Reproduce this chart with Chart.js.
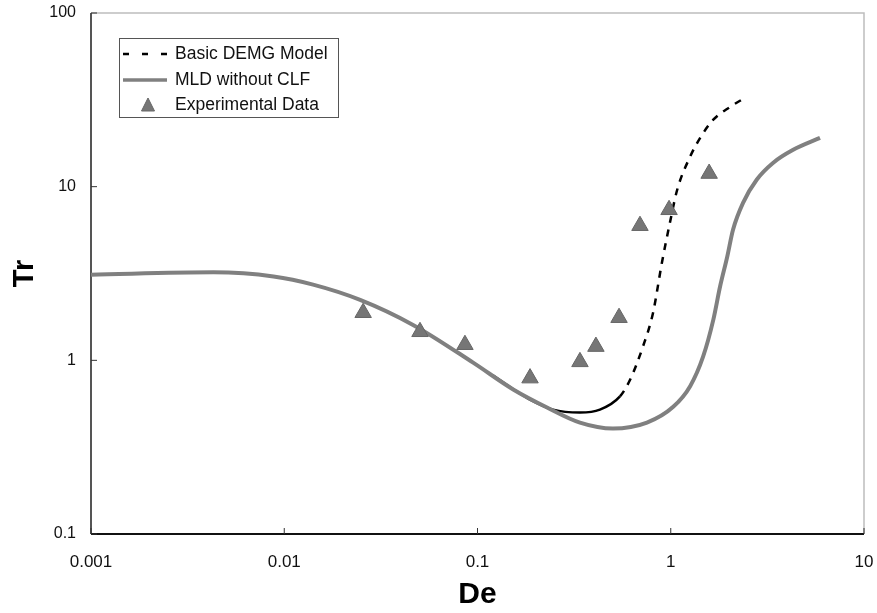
<!DOCTYPE html>
<html>
<head>
<meta charset="utf-8">
<script src="https://cdn.jsdelivr.net/npm/chart.js@4"></script>
<style>
  html, body { margin: 0; padding: 0; background: #fff; }
  #wrap { width: 877px; height: 613px; }
</style>
</head>
<body>
<div id="wrap"><canvas id="trChart" width="877" height="613"></canvas></div>
<script>
// tick labels
const xTicks = [0.001, 0.01, 0.1, 1, 10];
const yTicks = [0.1, 1, 10, 100];

// Basic DEMG Model (black, solid at first then dashed)
const deBasic = [0.12, 0.16, 0.187, 0.246, 0.339, 0.43, 0.546, 0.615, 0.718, 0.81, 0.90, 0.99, 1.08, 1.26, 1.42, 1.66, 2.03, 2.42];
const trBasic = [0.82, 0.66, 0.594, 0.52, 0.50, 0.52, 0.62, 0.77, 1.2, 1.88, 3.65, 6.2, 9.6, 14.9, 19.1, 24.3, 28.8, 32.5];

// MLD without CLF (grey)
const deMld = [0.001, 0.0043, 0.0088, 0.0141, 0.0247, 0.0464, 0.0949, 0.153, 0.229, 0.339, 0.502, 0.753, 1.03, 1.26, 1.47, 1.66, 1.80, 1.96, 2.10, 2.37, 2.79, 3.38, 4.3, 5.92];
const trMld = [3.11, 3.21, 3.04, 2.73, 2.23, 1.60, 0.97, 0.68, 0.535, 0.438, 0.405, 0.438, 0.54, 0.71, 1.05, 1.71, 2.66, 3.95, 5.65, 8.1, 11.0, 13.7, 16.3, 19.1];

// Experimental Data (triangles)
const deExp = [0.0256, 0.0504, 0.0861, 0.187, 0.339, 0.41, 0.54, 0.693, 0.98, 1.58];
const trExp = [1.88, 1.46, 1.23, 0.79, 0.98, 1.2, 1.76, 5.96, 7.36, 11.9];

const labels = ['Basic DEMG Model', 'MLD without CLF', 'Experimental Data'];

function pts(xs, ys) {
  return xs.map((x, i) => ({ x: x, y: ys[i] }));
}

// frame, inside ticks and the boxed legend inside the plot
const framePlugin = {
  id: 'frame',
  beforeDatasetsDraw(chart) {
    const a = chart.chartArea;
    const ctx = chart.ctx;
    const xs = chart.scales.x, ys = chart.scales.y;
    ctx.save();
    ctx.strokeStyle = '#bdbdbd';
    ctx.lineWidth = 1.5;
    ctx.beginPath();
    ctx.moveTo(a.left, a.top); ctx.lineTo(a.right, a.top); ctx.lineTo(a.right, a.bottom);
    ctx.stroke();
    ctx.strokeStyle = '#555';
    ctx.lineWidth = 2;
    ctx.beginPath();
    ctx.moveTo(a.left, a.top); ctx.lineTo(a.left, a.bottom);
    ctx.stroke();
    ctx.strokeStyle = '#111';
    ctx.beginPath();
    ctx.moveTo(a.left, a.bottom); ctx.lineTo(a.right, a.bottom);
    ctx.stroke();
    ctx.lineWidth = 1;
    ctx.strokeStyle = '#333';
    xTicks.forEach(v => {
      const px = xs.getPixelForValue(v);
      ctx.beginPath(); ctx.moveTo(px, a.bottom); ctx.lineTo(px, a.bottom - 6); ctx.stroke();
    });
    yTicks.forEach(v => {
      const py = ys.getPixelForValue(v);
      ctx.beginPath(); ctx.moveTo(a.left, py); ctx.lineTo(a.left + 6, py); ctx.stroke();
    });
    ctx.restore();
  },
  afterDraw(chart) {
    const a = chart.chartArea;
    const ctx = chart.ctx;
    const bx = a.left + 28, by = a.top + 25, bw = 219, bh = 79;
    ctx.save();
    ctx.fillStyle = '#fff';
    ctx.fillRect(bx, by, bw, bh);
    ctx.strokeStyle = '#555';
    ctx.lineWidth = 1;
    ctx.strokeRect(bx + 0.5, by + 0.5, bw, bh);
    const rows = [by + 16, by + 42, by + 67];
    ctx.font = '17.5px "Liberation Sans", Arial, sans-serif';
    ctx.fillStyle = '#111';
    ctx.textBaseline = 'middle';
    labels.forEach((t, i) => ctx.fillText(t, bx + 56, rows[i]));
    // dashed sample
    ctx.strokeStyle = '#000';
    ctx.lineWidth = 2.5;
    ctx.setLineDash([6, 13]);
    ctx.beginPath(); ctx.moveTo(bx + 4, rows[0]); ctx.lineTo(bx + 48, rows[0]); ctx.stroke();
    ctx.setLineDash([]);
    ctx.strokeStyle = '#808080';
    ctx.lineWidth = 3.5;
    ctx.beginPath(); ctx.moveTo(bx + 4, rows[1]); ctx.lineTo(bx + 48, rows[1]); ctx.stroke();
    // triangle sample
    const cx = bx + 29, cy = rows[2];
    ctx.fillStyle = '#767676';
    ctx.strokeStyle = '#666';
    ctx.lineWidth = 1;
    ctx.beginPath();
    ctx.moveTo(cx, cy - 7); ctx.lineTo(cx + 6.5, cy + 6); ctx.lineTo(cx - 6.5, cy + 6); ctx.closePath();
    ctx.fill(); ctx.stroke();
    ctx.restore();
  }
};

const ctx = document.getElementById('trChart').getContext('2d');
const trChart = new Chart(ctx, {
  type: 'scatter',
  data: {
    datasets: [
      {
        label: labels[2],
        data: pts(deExp, trExp),
        pointStyle: 'triangle',
        pointRadius: 9.5,
        backgroundColor: '#767676',
        borderColor: '#666',
        borderWidth: 1,
        order: 0
      },
      {
        label: labels[1],
        data: pts(deMld, trMld),
        showLine: true,
        borderColor: '#808080',
        borderWidth: 4,
        pointRadius: 0,
        cubicInterpolationMode: 'monotone',
        order: 1
      },
      {
        label: labels[0],
        data: pts(deBasic, trBasic),
        showLine: true,
        borderColor: '#000',
        borderWidth: 2.5,
        pointRadius: 0,
        cubicInterpolationMode: 'monotone',
        segment: {
          borderDash: c => c.p0.parsed.x >= 0.54 ? [7, 7] : undefined
        },
        order: 2
      }
    ]
  },
  options: {
    responsive: false,
    animation: false,
    layout: { padding: { left: 0, right: 13, top: 13, bottom: 0 } },
    plugins: {
      legend: { display: false },
      tooltip: { enabled: false }
    },
    scales: {
      x: {
        type: 'logarithmic',
        min: 0.001,
        max: 10,
        afterBuildTicks: s => { s.ticks = xTicks.map(v => ({ value: v })); },
        afterFit: s => { s.height = 79; s.paddingLeft = 0; s.paddingRight = 0; },
        grid: { display: false },
        border: { display: false },
        ticks: {
          color: '#111',
          font: { family: '"Liberation Sans", Arial, sans-serif', size: 17 },
          padding: 10,
          maxRotation: 0,
          autoSkip: false,
          callback: v => String(v)
        },
        title: {
          display: true,
          text: 'De',
          color: '#000',
          font: { family: '"Liberation Sans", Arial, sans-serif', size: 30, weight: 'bold' },
          padding: { top: 0, bottom: 0 }
        }
      },
      y: {
        type: 'logarithmic',
        min: 0.1,
        max: 100,
        afterBuildTicks: s => { s.ticks = yTicks.map(v => ({ value: v })); },
        afterFit: s => { s.width = 91; s.paddingTop = 0; s.paddingBottom = 0; },
        grid: { display: false },
        border: { display: false },
        ticks: {
          color: '#111',
          font: { family: '"Liberation Sans", Arial, sans-serif', size: 16 },
          padding: 7,
          autoSkip: false,
          callback: v => String(v)
        },
        title: {
          display: true,
          text: 'Tr',
          color: '#000',
          font: { family: '"Liberation Sans", Arial, sans-serif', size: 29, weight: 'bold' },
          padding: { top: 8, bottom: 0 }
        }
      }
    }
  },
  plugins: [framePlugin]
});
</script>
</body>
</html>
